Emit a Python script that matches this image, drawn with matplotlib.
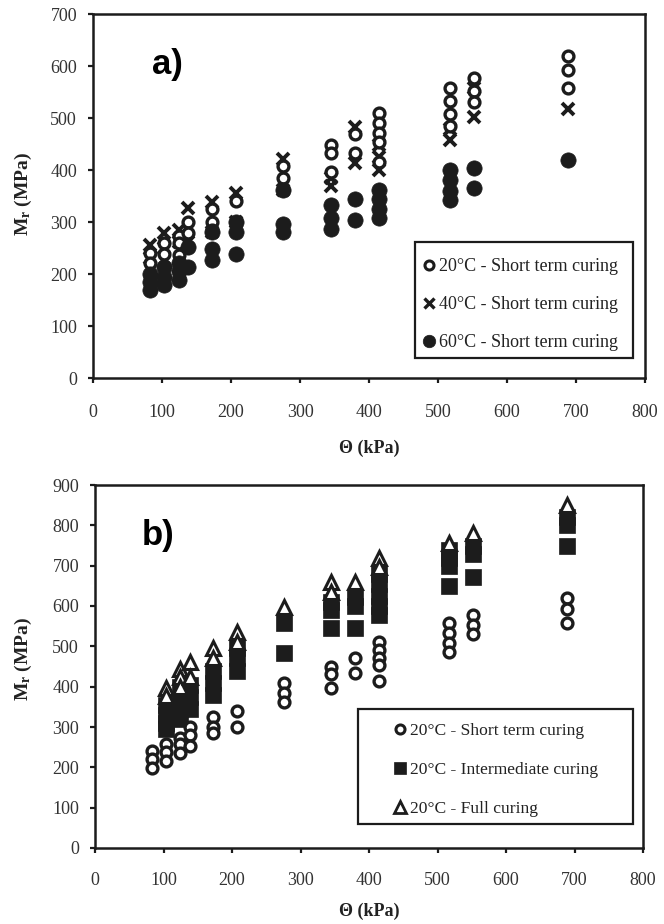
import matplotlib
matplotlib.use("Agg")
import matplotlib.pyplot as plt
from matplotlib.patches import Rectangle
from matplotlib.lines import Line2D

plt.rcParams['font.family'] = ['Liberation Serif', 'DejaVu Serif']
plt.rcParams['mathtext.default'] = 'regular'

# ---------------- data ----------------
theta_levels = [83, 103, 124, 138, 172, 207, 276, 345, 379, 414, 517, 552, 689]

# 20 C short term curing (shared by both panels)
mr_20_short = [
    [241, 221, 198], [259, 238, 216], [273, 259, 236], [300, 279, 252],
    [325, 300, 284], [340, 300], [408, 385, 362], [448, 432, 396],
    [470, 433], [510, 491, 472, 454, 415], [557, 532, 508, 485],
    [577, 552, 530], [620, 592, 558],
]
# 40 C short term curing
mr_40_short = [
    [256, 230], [279, 250], [285, 262], [327, 262], [339, 280], [356, 300],
    [422, 362], [384, 370], [483, 413], [448, 425, 400], [478, 458],
    [557, 502], [518],
]
# 60 C short term curing
mr_60_short = [
    [200, 185, 170], [214, 195, 178], [222, 205, 188], [252, 214],
    [280, 248, 226], [300, 280, 238], [362, 296, 280], [333, 308, 287],
    [345, 304], [362, 345, 325, 308], [400, 380, 360, 343], [404, 365],
    [420],
]
# 20 C intermediate curing
mr_20_inter = [
    [], [355, 330, 310, 295], [400, 370, 345, 320], [405, 375, 345],
    [440, 410, 380], [495, 470, 440], [557, 483], [610, 590, 545],
    [622, 600, 545], [680, 655, 625, 600, 578], [740, 720, 700, 650],
    [750, 730, 672], [820, 800, 748],
]
# 20 C full curing
mr_20_full = [
    [], [396, 378], [445, 423, 400], [460, 423], [495, 470], [535, 510],
    [597], [659, 634], [659], [719, 697], [756], [781], [851],
]

labels_a = ['20°C - Short term curing', '40°C - Short term curing',
            '60°C - Short term curing']
labels_b = ['20°C - Short term curing', '20°C - Intermediate curing',
            '20°C - Full curing']

xticks = [0, 100, 200, 300, 400, 500, 600, 700, 800]
yticks_a = [0, 100, 200, 300, 400, 500, 600, 700]
yticks_b = [0, 100, 200, 300, 400, 500, 600, 700, 800, 900]


def expand(groups):
    xs, ys = [], []
    for t, vals in zip(theta_levels, groups):
        for v in vals:
            xs.append(t)
            ys.append(v)
    return xs, ys


INK = '#1c1c1c'
open_circle = dict(marker='o', ms=7.8, mfc='white', mec=INK, mew=2.4, ls='none')
cross = dict(marker='x', ms=8.5, mec=INK, mew=2.8, ls='none')
filled_circle = dict(marker='o', ms=11, mfc=INK, mec=INK, mew=0.5, ls='none')
filled_square = dict(marker='s', ms=11, mfc=INK, mec=INK, mew=0.5, ls='none')
open_tri = dict(marker='^', ms=9.5, mfc='white', mec=INK, mew=2.2, ls='none')

fig = plt.figure(figsize=(6.64, 9.24), dpi=100)
ax1 = fig.add_axes([93 / 664, 1 - 378 / 924, 552 / 664, 364 / 924])
ax2 = fig.add_axes([95 / 664, 1 - 848 / 924, 548 / 664, 363 / 924])


def style_axes(ax, yticks, xpad):
    ax.set_xlim(0, 800)
    ax.set_ylim(yticks[0], yticks[-1])
    ax.set_xticks(xticks)
    ax.set_yticks(yticks)
    for s in ax.spines.values():
        s.set_linewidth(1.8)
        s.set_color(INK)
    ax.tick_params(direction='out', length=3.5, width=1.6, colors=INK,
                   labelsize=13, labelcolor='#333333')
    ax.tick_params(axis='x', pad=xpad)
    ax.tick_params(axis='y', pad=8)
    ax.set_xlabel('Θ (kPa)', fontsize=13, fontweight='bold', color='#222222')
    ax.set_ylabel(r'M$_{r}$ (MPa)', fontsize=14, fontweight='bold',
                  color='#222222')


# ---------------- panel a ----------------
x, y = expand(mr_40_short)
ax1.plot(x, y, **cross, zorder=3)
x, y = expand(mr_20_short)
ax1.plot(x, y, **open_circle, zorder=4)
x, y = expand(mr_60_short)
ax1.plot(x, y, **filled_circle, zorder=5)
style_axes(ax1, yticks_a, 15)
ax1.xaxis.set_label_coords(0.5, -0.170)
ax1.yaxis.set_label_coords(-0.106, 0.505)
ax1.text(85, 602, 'a)', fontsize=25, fontweight='bold',
         family='Liberation Sans', ha='left', va='center', color='black')

ax1.add_patch(Rectangle((0.583, 0.055), 0.395, 0.319, transform=ax1.transAxes,
                        fill=False, lw=1.6, ec=INK, zorder=6))
h_a = [Line2D([], [], **dict(open_circle, ms=6.5, mew=2.2)),
       Line2D([], [], **dict(cross, ms=7.5, mew=2.4)),
       Line2D([], [], **dict(filled_circle, ms=9))]
leg1 = ax1.legend(h_a, labels_a, loc='upper left',
                  bbox_to_anchor=(0.599, 0.330), frameon=False,
                  fontsize=13, handlelength=0.6, handletextpad=0.25,
                  labelspacing=1.17, borderpad=0, borderaxespad=0)
for t in leg1.get_texts():
    t.set_color('#222222')

# ---------------- panel b ----------------
x, y = expand(mr_20_inter)
ax2.plot(x, y, **filled_square, zorder=3)
x, y = expand(mr_20_full)
ax2.plot(x, y, **open_tri, zorder=4)
x, y = expand(mr_20_short)
ax2.plot(x, y, **open_circle, zorder=5)
style_axes(ax2, yticks_b, 13.5)
ax2.xaxis.set_label_coords(0.5, -0.152)
ax2.yaxis.set_label_coords(-0.111, 0.52)
ax2.text(69, 776, 'b)', fontsize=25, fontweight='bold',
         family='Liberation Sans', ha='left', va='center', color='black')

ax2.add_patch(Rectangle((0.480, 0.066), 0.502, 0.318, transform=ax2.transAxes,
                        fill=False, lw=1.6, ec=INK, zorder=6))
h_b = [Line2D([], [], **dict(open_circle, ms=6.5, mew=2.2)),
       Line2D([], [], **dict(filled_square, ms=9)),
       Line2D([], [], **dict(open_tri, ms=8, mew=2.0))]
leg2 = ax2.legend(h_b, labels_b, loc='upper left',
                  bbox_to_anchor=(0.547, 0.345), frameon=False,
                  fontsize=12.6, handlelength=0.6, handletextpad=0.25,
                  labelspacing=1.3, borderpad=0, borderaxespad=0)
for t in leg2.get_texts():
    t.set_color('#222222')

fig.savefig('out.png', dpi=100, facecolor='white')
